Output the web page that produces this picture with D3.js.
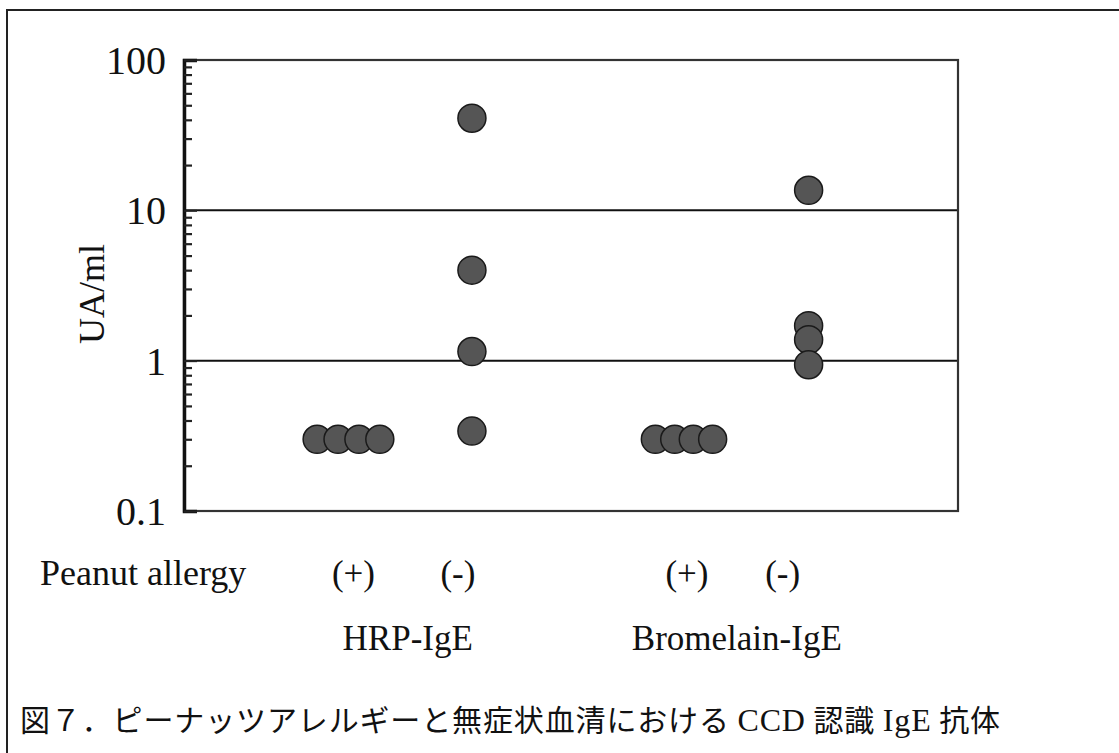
<!DOCTYPE html>
<html>
<head>
<meta charset="utf-8">
<script src="https://cdn.jsdelivr.net/npm/d3@7"></script>
<style>
  html, body { margin: 0; padding: 0; background: #fff; }
  svg { display: block; }
  .serif { font-family: "Liberation Serif", "Times New Roman", serif; fill: #111; }
  .jp { font-family: "Noto Sans CJK JP", sans-serif; fill: #111; }
</style>
</head>
<body>
<script>
// ---- data ----
const categories = ["HRP-IgE (+)", "HRP-IgE (-)", "Bromelain-IgE (+)", "Bromelain-IgE (-)"];
const conditionLabels = ["(+)", "(-)", "(+)", "(-)"];
const groupLabels = ["HRP-IgE", "Bromelain-IgE"];
const hrpPositive = [0.3, 0.3, 0.3, 0.3];
const hrpNegative = [41, 4.0, 1.15, 0.34];
const bromelainPositive = [0.3, 0.3, 0.3, 0.3];
const bromelainNegative = [13.6, 1.71, 1.38, 0.94];
// horizontal placement of each dot within the category axis (0–100 units)
const hrpPositiveX = [17.2, 19.9, 22.6, 25.3];
const hrpNegativeX = [37.2, 37.2, 37.2, 37.2];
const bromelainPositiveX = [60.9, 63.4, 65.8, 68.3];
const bromelainNegativeX = [80.7, 80.7, 80.7, 80.7];
const yTickValues = [0.1, 1, 10, 100];
const yTickLabels = ["0.1", "1", "10", "100"];
const yAxisTitle = "UA/ml";
const rowTitle = "Peanut allergy";

const W = 1119, H = 753;
const svg = d3.select("body").append("svg").attr("width", W).attr("height", H);

// outer frame (top and left visible)
svg.append("path").attr("d", `M7,${H} L7,10 L${W},10`).attr("fill", "none")
  .attr("stroke", "#222").attr("stroke-width", 2);

const plot = { left: 184, right: 958, top: 60, bottom: 511 };
const x = d3.scaleLinear().domain([0, 100]).range([plot.left, plot.right]);
const y = d3.scaleLog().domain([0.1, 100]).range([plot.bottom, plot.top]);

// gridlines at 1 and 10
svg.append("g").selectAll("line").data([1, 10]).join("line")
  .attr("x1", plot.left).attr("x2", plot.right)
  .attr("y1", d => y(d)).attr("y2", d => y(d))
  .attr("stroke", "#111").attr("stroke-width", 2);

// plot frame
svg.append("rect").attr("x", plot.left).attr("y", plot.top)
  .attr("width", plot.right - plot.left).attr("height", plot.bottom - plot.top)
  .attr("fill", "none").attr("stroke", "#333").attr("stroke-width", 2.2);

// y axis with inward ticks
const minorTicks = y.ticks(30).filter(v => !yTickValues.includes(v));
const axisG = svg.append("g").attr("transform", `translate(${plot.left},0)`);
axisG.call(d3.axisRight(y).tickValues(yTickValues).tickSize(13).tickFormat(""));
axisG.selectAll(".domain").attr("stroke", "#111").attr("stroke-width", 3.5);
axisG.selectAll(".tick line").attr("stroke", "#222").attr("stroke-width", 2);
const minorG = svg.append("g").attr("transform", `translate(${plot.left},0)`);
minorG.call(d3.axisRight(y).tickValues(minorTicks).tickSize(8).tickFormat(""));
minorG.select(".domain").remove();
minorG.selectAll(".tick line").attr("stroke", "#222").attr("stroke-width", 2.2);

// y tick labels
svg.append("g").selectAll("text").data(yTickValues).join("text")
  .attr("class", "serif")
  .attr("x", plot.left - 18).attr("y", d => y(d))
  .attr("dy", "0.35em").attr("text-anchor", "end")
  .attr("font-size", 40)
  .text((d, i) => yTickLabels[i]);

// y axis title
svg.append("text").attr("class", "serif")
  .attr("transform", `translate(104,294) rotate(-90)`)
  .attr("text-anchor", "middle").attr("font-size", 36)
  .text(yAxisTitle);

// dots
const series = [
  { vals: hrpPositive, xs: hrpPositiveX },
  { vals: hrpNegative, xs: hrpNegativeX },
  { vals: bromelainPositive, xs: bromelainPositiveX },
  { vals: bromelainNegative, xs: bromelainNegativeX }
];
const pts = series.flatMap((s, ci) => s.vals.map((v, i) => ({ cat: categories[ci], v, xv: s.xs[i] })));
svg.append("g").selectAll("circle").data(pts).join("circle")
  .attr("cx", d => x(d.xv)).attr("cy", d => y(d.v)).attr("r", 14)
  .attr("fill", "#555").attr("stroke", "#1a1a1a").attr("stroke-width", 1.5);

// category centers
const catCenters = series.map(s => d3.mean(s.xs));
const labelX = catCenters.map((c, i) => x(c) + [5, -14, 3, -26][i]);

svg.append("text").attr("class", "serif").attr("x", 40).attr("y", 585)
  .attr("font-size", 36).text(rowTitle);
svg.append("g").selectAll("text").data(conditionLabels).join("text")
  .attr("class", "serif").attr("x", (d, i) => labelX[i]).attr("y", 585)
  .attr("text-anchor", "middle").attr("font-size", 35).text(d => d);
svg.append("g").selectAll("text").data(groupLabels).join("text")
  .attr("class", "serif")
  .attr("x", (d, i) => (labelX[2 * i] + labelX[2 * i + 1]) / 2 + 2)
  .attr("y", 650).attr("text-anchor", "middle").attr("font-size", 35).text(d => d);

// caption
const cap = svg.append("text").attr("x", 20).attr("y", 731).attr("font-size", 30)
  .attr("textLength", 980).attr("lengthAdjust", "spacing");
cap.append("tspan").attr("class", "jp").text("図７．ピーナッツアレルギーと無症状血清における ");
cap.append("tspan").attr("class", "serif").attr("font-size", 32).text("CCD");
cap.append("tspan").attr("class", "jp").text(" 認識 ");
cap.append("tspan").attr("class", "serif").attr("font-size", 32).text("IgE");
cap.append("tspan").attr("class", "jp").text(" 抗体");
</script>
</body>
</html>
